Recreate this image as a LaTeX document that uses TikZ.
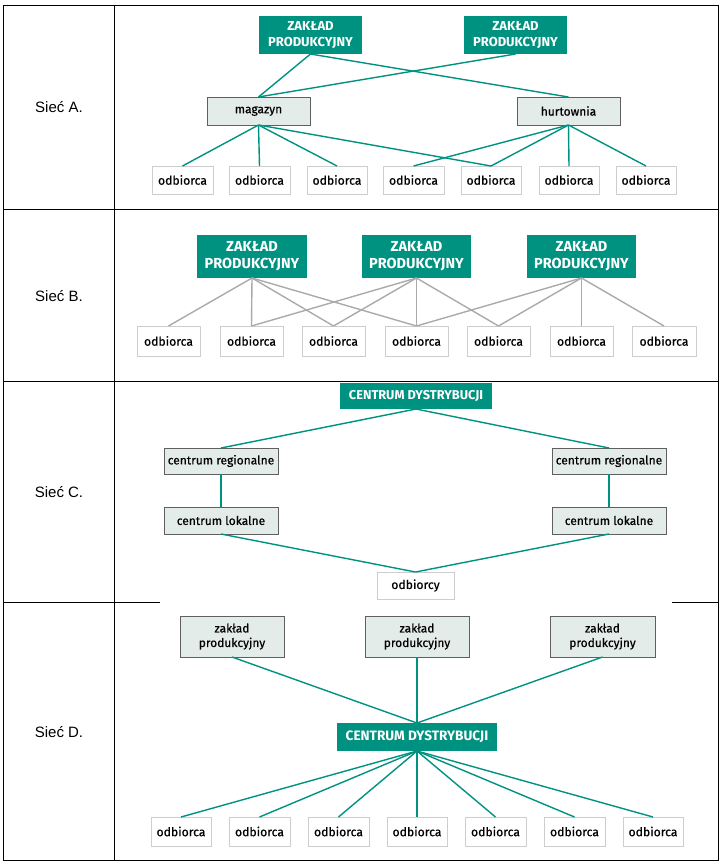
\documentclass[tikz,border=0pt]{standalone}
\usepackage{fontspec}
\setmainfont{Liberation Sans}
\newfontfamily\dfont[FakeBold=0.5]{Fira Sans}
\newfontfamily\dfontb{Fira Sans Bold}
\definecolor{tealc}{RGB}{0,146,128}
\definecolor{lightc}{RGB}{228,236,233}
\definecolor{grayc}{RGB}{95,95,95}
\definecolor{obc}{RGB}{205,205,205}
\definecolor{graylc}{RGB}{170,170,170}
\tikzset{
  tbl/.style={line width=1.3pt, draw=black},
  zp/.style={fill=tealc, draw=none, text=white, font=\dfontb\fontsize{13}{15.5}\selectfont, align=center, inner sep=0pt, outer sep=0pt},
  zpb/.style={zp, font=\dfontb\fontsize{14.5}{17}\selectfont},
  cd/.style={zp, font=\dfontb\fontsize{12.8}{15}\selectfont},
  cdd/.style={zp, font=\dfontb\fontsize{13.6}{16}\selectfont},
  gbox/.style={fill=lightc, draw=grayc, line width=0.9pt, font=\dfont\fontsize{12}{14.5}\selectfont, align=center, inner sep=0pt, outer sep=0pt},
  obox/.style={fill=white, draw=obc, line width=0.9pt, font=\dfont\fontsize{12.2}{14}\selectfont, align=center, inner sep=0pt, outer sep=0pt},
  tl/.style={draw=tealc, line width=1.4pt},
  gl/.style={draw=graylc, line width=1.4pt},
  lab/.style={font=\fontsize{15}{18}\selectfont, inner sep=0pt},
}
\newcommand\pbox[7]{\node[#1,minimum width={(#5)-(#3)},minimum height={(#6)-(#4)}] (#2) at ({((#3)+(#5))/2},{((#4)+(#6))/2}) {#7};}
\begin{document}
\begin{tikzpicture}[x=1pt,y=-1pt]
\useasboundingbox (0,0) rectangle (723,865);
% table
\draw[tbl] (3.5,5.5) rectangle (718.5,860.5);
\draw[tbl] (114.5,5.5) -- (114.5,860.5);
\draw[tbl] (3.5,209.5) -- (718.5,209.5);
\draw[tbl] (3.5,381.7) -- (718.5,381.7);
\draw[tbl] (3.5,602.7) -- (160,602.7);
\draw[tbl] (672,602.7) -- (718.5,602.7);
\node[lab] (labA) at (59,107.5) {Sieć A.};
\node[lab] (labB) at (59,295.6) {Sieć B.};
\node[lab] (labC) at (59,492.2) {Sieć C.};
\node[lab] (labD) at (59,731.6) {Sieć D.};
% ---------- Siec A
\pbox{zp}{zpA1}{259}{16}{362}{54}{ZAKŁAD\\PRODUKCYJNY}
\pbox{zp}{zpA2}{464}{16}{567}{54}{ZAKŁAD\\PRODUKCYJNY}
\pbox{gbox}{mag}{207}{97}{310}{125}{magazyn}
\pbox{gbox}{hurt}{517}{97}{620}{125}{hurtownia}
\pbox{obox}{oA1}{152}{166}{213}{194}{odbiorca}
\pbox{obox}{oA2}{229}{166}{290}{194}{odbiorca}
\pbox{obox}{oA3}{307}{166}{367}{194}{odbiorca}
\pbox{obox}{oA4}{383}{166}{444}{194}{odbiorca}
\pbox{obox}{oA5}{461}{166}{521}{194}{odbiorca}
\pbox{obox}{oA6}{539}{166}{599}{194}{odbiorca}
\pbox{obox}{oA7}{616}{166}{676}{194}{odbiorca}
\draw[tl] (zpA1.south) -- (mag.north);
\draw[tl] (zpA1.south) -- (hurt.north);
\draw[tl] (zpA2.south) -- (mag.north);
\foreach \t in {oA1,oA2,oA3,oA5} \draw[tl] (mag.south) -- (\t.north);
\foreach \t in {oA4,oA5,oA6,oA7} \draw[tl] (hurt.south) -- (\t.north);
% ---------- Siec B
\pbox{zpb}{zpB1}{197}{235}{307}{278}{ZAKŁAD\\PRODUKCYJNY}
\pbox{zpb}{zpB2}{362}{235}{471}{278}{ZAKŁAD\\PRODUKCYJNY}
\pbox{zpb}{zpB3}{527}{235}{636}{278}{ZAKŁAD\\PRODUKCYJNY}
\pbox{obox}{oB1}{137}{326}{200}{356}{odbiorca}
\pbox{obox}{oB2}{220}{326}{283}{356}{odbiorca}
\pbox{obox}{oB3}{302}{326}{365}{356}{odbiorca}
\pbox{obox}{oB4}{385}{326}{448}{356}{odbiorca}
\pbox{obox}{oB5}{467}{326}{530}{356}{odbiorca}
\pbox{obox}{oB6}{550}{326}{613}{356}{odbiorca}
\pbox{obox}{oB7}{632}{326}{696}{356}{odbiorca}
\foreach \t in {oB1,oB2,oB3,oB4} \draw[gl] (zpB1.south) -- (\t.north);
\foreach \t in {oB2,oB3,oB4,oB5} \draw[gl] (zpB2.south) -- (\t.north);
\foreach \t in {oB4,oB5,oB6,oB7} \draw[gl] (zpB3.south) -- (\t.north);
% ---------- Siec C
\pbox{cd}{cdC}{340}{383}{492}{409}{CENTRUM DYSTRYBUCJI}
\pbox{gbox}{crL}{164}{448}{278}{474}{centrum regionalne}
\pbox{gbox}{crR}{552}{448}{666}{474}{centrum regionalne}
\pbox{gbox}{clL}{164}{507}{278}{534}{centrum lokalne}
\pbox{gbox}{clR}{552}{507}{666}{534}{centrum lokalne}
\pbox{obox}{oC}{377}{572}{454}{599}{odbiorcy}
\draw[tl] (cdC.south) -- (crL.north);
\draw[tl] (cdC.south) -- (crR.north);
\draw[tl] (crL.south) -- (clL.north);
\draw[tl] (crR.south) -- (clR.north);
\draw[tl] (clL.south) -- (oC.north);
\draw[tl] (clR.south) -- (oC.north);
% ---------- Siec D
\pbox{gbox}{zpD1}{180}{616}{284}{657}{zakład\\produkcyjny}
\pbox{gbox}{zpD2}{365}{616}{469}{657}{zakład\\produkcyjny}
\pbox{gbox}{zpD3}{550}{616}{655}{657}{zakład\\produkcyjny}
\pbox{cdd}{cdD}{337}{723}{497}{751}{CENTRUM DYSTRYBUCJI}
\pbox{obox}{oD1}{151}{817}{211}{846}{odbiorca}
\pbox{obox}{oD2}{229}{817}{290}{846}{odbiorca}
\pbox{obox}{oD3}{308}{817}{369}{846}{odbiorca}
\pbox{obox}{oD4}{387}{817}{447}{846}{odbiorca}
\pbox{obox}{oD5}{465}{817}{526}{846}{odbiorca}
\pbox{obox}{oD6}{544}{817}{605}{846}{odbiorca}
\pbox{obox}{oD7}{623}{817}{683}{846}{odbiorca}
\foreach \s in {zpD1,zpD2,zpD3} \draw[tl] (\s.south) -- (cdD.north);
\foreach \t in {oD1,oD2,oD3,oD4,oD5,oD6,oD7} \draw[tl] (cdD.south) -- (\t.north);
\end{tikzpicture}
\end{document}
